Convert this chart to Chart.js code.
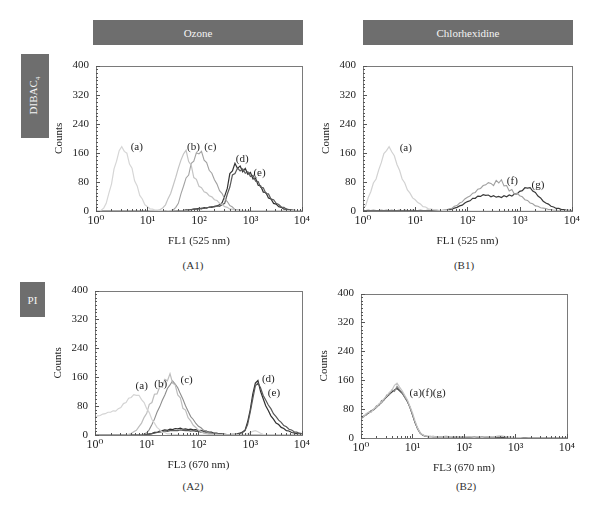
<!DOCTYPE html>
<html>
<head>
<meta charset="utf-8">
<script src="https://cdn.jsdelivr.net/npm/chart.js@4.4.0/dist/chart.umd.min.js"></script>
<style>
  body { margin: 0; background: #fff; width: 600px; height: 513px; position: relative; overflow: hidden; font-family: "Liberation Serif", "DejaVu Serif", serif; }
  .box { position: absolute; background: #6e6e6e; color: #f4f4f4; font-size: 11px; display: flex; align-items: center; justify-content: center; }
  .side span { transform: rotate(-90deg); white-space: nowrap; display: inline-block; }
  .cap { position: absolute; font-size: 11px; color: #333; transform: translate(-50%, -50%); white-space: nowrap; }
  canvas { position: absolute; }
</style>
</head>
<body>
<div class="box" style="left:93px;top:20px;width:210px;height:25px">Ozone</div>
<div class="box" style="left:363px;top:20px;width:210px;height:25px">Chlorhexidine</div>
<div class="box side" style="left:21px;top:54px;width:28px;height:84px"><span>DIBAC<sub style="font-size:7px">4</sub></span></div>
<div class="box" style="left:20px;top:282px;width:25px;height:35px">PI</div>
<div class="cap" style="left:193px;top:265px">(A1)</div>
<div class="cap" style="left:464px;top:265px">(B1)</div>
<div class="cap" style="left:193px;top:486px">(A2)</div>
<div class="cap" style="left:466px;top:486px">(B2)</div>
<canvas id="cA1"></canvas>
<canvas id="cB1"></canvas>
<canvas id="cA2"></canvas>
<canvas id="cB2"></canvas>
<script>
// channel values (0.05 decade bins)
const channels = [1,1.12,1.26,1.41,1.58,1.78,2,2.24,2.51,2.82,
  3.16,3.55,3.98,4.47,5.01,5.62,6.31,7.08,7.94,8.91,
  10,11.2,12.6,14.1,15.8,17.8,20,22.4,25.1,28.2,
  31.6,35.5,39.8,44.7,50.1,56.2,63.1,70.8,79.4,89.1,
  100,112,126,141,158,178,200,224,251,282,
  316,355,398,447,501,562,631,708,794,891,
  1000,1122,1259,1413,1585,1778,1995,2239,2512,2818,
  3162,3548,3981,4467,5012,5623,6310,7079,7943,8913,
  10000];

const xTickValues = [1, 10, 100, 1000, 10000];
const xTickLabels = ['10⁰', '10¹', '10²', '10³', '10⁴'];
const yTickStep = 80;

// A1: DIBAC4, ozone, FL1
const a1a = [0,1,2,8,21,49,74,116,137,166, 177,164,159,129,118,83,69,43,33,17, 12,6,5,2,2,1,1,0,1,0, 0,0,0,0,0,0,0,0,0,0, 0,0,0,0,0,0,0,0,0,0, 0,0,0,0,0,0,0,0,0,0, 0,0,0,0,0,0,0,0,0,0, 0,0,0,0,0,0,0,0,0,0, 0];
const a1b = [0,0,0,0,0,0,0,0,0,0, 0,0,0,0,0,0,0,0,0,0, 0,1,1,2,2,4,9,17,34,48, 70,93,118,140,157,167,136,126,92,87, 68,64,53,50,42,39,31,29,21,18, 12,10,5,5,2,2,1,1,0,0, 0,0,0,0,0,0,0,0,0,0, 0,0,0,0,0,0,0,0,0,0, 0];
const a1c = [0,0,0,0,0,0,0,0,0,0, 0,0,0,0,0,0,0,0,0,0, 0,0,0,0,0,0,0,0,1,1, 3,10,21,47,68,91,99,131,137,160, 157,164,140,133,112,104,86,74,56,48, 33,26,15,11,4,3,2,1,0,0, 0,0,0,0,0,0,0,0,0,0, 0,0,0,0,0,0,0,0,0,0, 0];
const a1d = [0,0,0,0,0,0,0,0,0,0, 0,0,0,0,0,0,0,0,0,0, 0,0,0,0,0,0,0,0,0,0, 0,0,1,1,1,3,2,4,5,6, 7,6,9,8,11,10,13,14,17,23, 41,62,103,110,131,117,124,108,117,101, 106,88,90,71,69,52,51,36,33,21, 19,12,10,5,5,2,2,1,1,0, 0];
const a1e = [0,0,0,0,0,0,0,0,0,0, 0,0,0,0,0,0,0,0,0,0, 0,0,0,0,0,0,0,0,0,0, 0,0,0,1,1,2,3,3,5,5, 6,8,7,9,10,12,11,14,13,17, 21,46,66,99,103,118,110,116,104,108, 95,98,82,81,65,64,48,47,33,31, 21,18,11,10,5,4,3,2,1,1, 0];

// B1: DIBAC4, chlorhexidine, FL1
const b1a = [8,14,37,53,77,88,113,133,158,166, 177,163,152,128,112,88,77,58,49,36, 31,23,19,12,11,6,5,4,3,2, 2,1,1,1,0,0,0,0,0,0, 0,0,0,0,0,0,0,0,0,0, 0,0,0,0,0,0,0,0,0,0, 0,0,0,0,0,0,0,0,0,0, 0,0,0,0,0,0,0,0,0,0, 0];
const b1f = [0,0,0,0,0,0,0,0,0,0, 0,0,0,0,0,0,0,0,0,0, 0,0,0,0,0,0,0,0,0,0, 1,2,3,6,7,13,15,22,25,33, 38,41,49,51,60,62,70,72,78,76, 70,84,77,86,69,70,55,59,46,49, 42,39,31,29,22,20,14,13,9,8, 7,4,4,2,2,1,0,0,0,0, 0];
const b1g = [2,1,2,1,2,1,1,2,1,2, 1,2,1,1,2,1,2,1,1,2, 1,1,2,1,1,2,1,1,2,1, 1,2,2,4,5,8,10,14,16,22, 26,28,35,35,41,40,45,43,44,39, 42,38,40,37,42,39,44,41,47,47, 54,56,64,63,64,55,51,41,36,27, 22,19,13,11,7,7,4,4,2,2, 1];

// A2: PI, ozone, FL3
const a2a = [47,53,54,58,59,63,63,67,66,73, 76,87,90,102,104,112,110,110,98,90, 73,62,43,33,21,15,8,7,3,3, 2,1,1,0,0,0,0,0,0,0, 0,0,0,0,0,0,0,0,0,0, 0,0,0,0,0,0,0,0,1,3, 7,10,12,9,5,2,1,0,0,0, 0,0,0,0,0,0,0,0,0,0, 0];
const a2b = [0,0,0,0,0,0,0,0,0,0, 0,0,0,2,4,9,13,23,33,49, 60,85,90,113,114,133,132,154,150,170, 144,139,111,103,74,69,48,39,27,21, 13,10,5,4,2,2,1,0,0,0, 0,0,0,0,0,0,0,0,0,0, 0,0,0,0,0,0,0,0,0,0, 0,0,0,0,0,0,0,0,0,0, 0];
const a2c = [0,0,0,0,0,0,0,0,0,0, 0,0,0,0,0,0,0,0,1,3, 6,15,29,44,63,78,96,111,129,139, 150,141,131,114,99,81,66,51,43,32, 24,20,13,11,6,5,3,3,1,1, 0,0,0,0,0,0,0,0,0,0, 0,0,0,0,0,0,0,0,0,0, 0,0,0,0,0,0,0,0,0,0, 0];
const a2d = [0,0,0,0,0,0,0,0,0,0, 0,0,0,0,0,0,0,0,0,1, 1,3,4,7,7,11,12,14,13,16, 15,18,17,19,16,17,15,16,14,15, 12,13,10,11,8,8,5,5,3,3, 2,1,1,2,2,3,5,8,13,36, 69,113,144,151,121,101,81,68,53,44, 33,29,21,18,12,11,7,6,4,3, 2];
const a2e = [0,0,0,0,0,0,0,0,0,0, 0,0,0,0,0,0,0,0,1,1, 2,2,4,5,7,8,9,11,10,12, 12,13,12,14,13,12,13,11,12,10, 10,8,9,7,6,6,4,4,3,2, 2,1,1,1,1,2,4,7,12,29, 63,100,136,144,131,110,97,83,73,59, 51,41,35,26,23,16,14,9,8,5, 4];

// B2: PI, chlorhexidine, FL3
const b2a = [62,58,67,72,71,81,86,95,99,110, 116,126,132,146,152,141,131,118,106,88, 70,47,28,15,9,6,5,4,5,3, 4,3,4,3,3,4,3,3,4,3, 3,4,3,3,2,3,3,2,3,3, 3,4,3,5,6,5,4,3,2,2, 1,1,1,0,0,0,0,0,0,0, 0,0,0,0,0,0,0,0,0,0, 0];
const b2f = [52,61,63,70,76,78,89,90,104,105, 119,120,133,129,143,134,126,112,103,84, 65,44,25,13,8,5,4,5,3,4, 3,4,4,5,4,3,4,3,3,3, 2,3,3,2,3,2,2,3,2,3, 2,3,2,3,3,4,3,2,2,1, 1,1,0,0,0,0,0,0,0,0, 0,0,0,0,0,0,0,0,0,0, 0];
const b2g = [55,59,66,69,75,79,85,93,98,107, 114,121,127,133,137,131,124,113,101,86, 64,43,26,14,8,5,4,4,4,3, 3,3,3,3,3,3,2,3,3,2, 2,2,2,2,2,2,2,2,2,2, 2,2,2,2,2,2,1,1,1,1, 1,1,1,1,1,0,0,0,0,0, 0,0,0,0,0,0,0,0,0,0, 0];

// curve labels (text, x in channel units, y in counts)
const a1LabelText = ['(a)', '(b)', '(c)', '(d)', '(e)'];
const a1LabelX = [6.2, 78, 166, 692, 1500];
const a1LabelY = [175, 175, 175, 143, 103];
const b1LabelText = ['(a)', '(f)', '(g)'];
const b1LabelX = [6.6, 724, 2240];
const b1LabelY = [172, 82, 72];
const a2LabelText = ['(a)', '(b)', '(c)', '(d)', '(e)'];
const a2LabelX = [8, 18.6, 59, 2240, 2880];
const a2LabelY = [136, 141, 152, 155, 117];
const b2LabelText = ['(a)(f)(g)'];
const b2LabelX = [19.7];
const b2LabelY = [123];

const serif = '"Liberation Serif", "DejaVu Serif", serif';

const frameAndLabels = {
  id: 'frameAndLabels',
  afterDatasetsDraw(chart, args, opts) {
    const { ctx, chartArea: ca, scales: { x, y } } = chart;
    ctx.save();
    ctx.strokeStyle = '#7a7a7a';
    ctx.lineWidth = 1;
    ctx.strokeRect(Math.round(ca.left) + 0.5, Math.round(ca.top) + 0.5, Math.round(ca.right - ca.left), Math.round(ca.bottom - ca.top));
    // minor ticks
    ctx.strokeStyle = '#555';
    ctx.beginPath();
    for (let v = 0; v <= 400; v += 10) {
      const py = Math.round(y.getPixelForValue(v)) + 0.5;
      const len = v % yTickStep === 0 ? 4 : 2;
      ctx.moveTo(ca.left, py); ctx.lineTo(ca.left + len, py);
    }
    for (let d = 1; d < 10000; d *= 10) {
      for (let m = 1; m <= 10; m++) {
        const px = Math.round(x.getPixelForValue(d * m)) + 0.5;
        const len = (m === 1 || m === 10) ? 4 : 2;
        ctx.moveTo(px, ca.bottom); ctx.lineTo(px, ca.bottom - len);
      }
    }
    ctx.stroke();
    // curve labels
    ctx.fillStyle = '#222';
    ctx.font = '11px ' + serif;
    ctx.textAlign = 'center';
    ctx.textBaseline = 'middle';
    opts.text.forEach((t, i) => {
      ctx.fillText(t, x.getPixelForValue(opts.xs[i]), y.getPixelForValue(opts.ys[i]));
    });
    ctx.restore();
  }
};

function makePanel(id, box, xTitle, series, colors, widths, lt, lx, ly) {
  const cv = document.getElementById(id);
  const padL = 60, padT = 8, padR = 10, padB = 40;
  cv.width = box.r - box.l + padL + padR;
  cv.height = box.b - box.t + padT + padB;
  cv.style.left = (box.l - padL) + 'px';
  cv.style.top = (box.t - padT) + 'px';
  new Chart(cv, {
    type: 'line',
    data: {
      datasets: series.map((vals, i) => ({
        data: vals.map((v, k) => ({ x: channels[k], y: v })),
        borderColor: colors[i],
        borderWidth: widths[i],
        pointRadius: 0,
        tension: 0,
        fill: false
      }))
    },
    options: {
      responsive: false,
      animation: false,
      events: [],
      layout: { padding: { top: padT, right: padR, left: 0, bottom: 0 } },
      plugins: {
        legend: { display: false },
        tooltip: { enabled: false },
        frameAndLabels: { text: lt, xs: lx, ys: ly }
      },
      scales: {
        x: {
          type: 'logarithmic', min: 1, max: 10000,
          afterFit(s) { s.height = padB; },
          afterBuildTicks(s) { s.ticks = xTickValues.map(v => ({ value: v })); },
          grid: { display: false, drawTicks: false },
          border: { display: false },
          ticks: { callback: (v, i) => xTickLabels[i], font: { family: serif, size: 12 }, color: '#222', padding: 3, maxRotation: 0, autoSkip: false },
          title: { display: true, text: xTitle, font: { family: serif, size: 11 }, color: '#222', padding: { top: 0, bottom: 3 } }
        },
        y: {
          min: 0, max: 400,
          afterFit(s) { s.width = padL; },
          grid: { display: false, drawTicks: false },
          border: { display: false },
          ticks: { stepSize: yTickStep, font: { family: serif, size: 11 }, color: '#222', padding: 7 },
          title: { display: true, text: 'Counts', font: { family: serif, size: 11 }, color: '#222', padding: { top: 17, bottom: 0 } }
        }
      }
    },
    plugins: [frameAndLabels]
  });
}

makePanel('cA1', { l: 96, t: 60, r: 303, b: 211 }, 'FL1 (525 nm)',
  [a1a, a1b, a1c, a1e, a1d], ['#d6d6d6', '#c4c4c4', '#a2a2a2', '#5a5a5a', '#333333'], [1.2, 1.2, 1.1, 1.2, 1.2],
  a1LabelText, a1LabelX, a1LabelY);
makePanel('cB1', { l: 363, t: 60, r: 573, b: 211 }, 'FL1 (525 nm)',
  [b1a, b1f, b1g], ['#d2d2d2', '#a0a0a0', '#3a3a3a'], [1.2, 1.1, 1.2],
  b1LabelText, b1LabelX, b1LabelY);
makePanel('cA2', { l: 95, t: 285, r: 303, b: 435 }, 'FL3 (670 nm)',
  [a2a, a2b, a2c, a2e, a2d], ['#d4d4d4', '#bdbdbd', '#8e8e8e', '#585858', '#303030'], [1.2, 1.2, 1.1, 1.2, 1.2],
  a2LabelText, a2LabelX, a2LabelY);
makePanel('cB2', { l: 361, t: 288, r: 568, b: 438 }, 'FL3 (670 nm)',
  [b2a, b2f, b2g], ['#c4c4c4', '#8a8a8a', '#333333'], [1.2, 1.1, 1.2],
  b2LabelText, b2LabelX, b2LabelY);
</script>
</body>
</html>
